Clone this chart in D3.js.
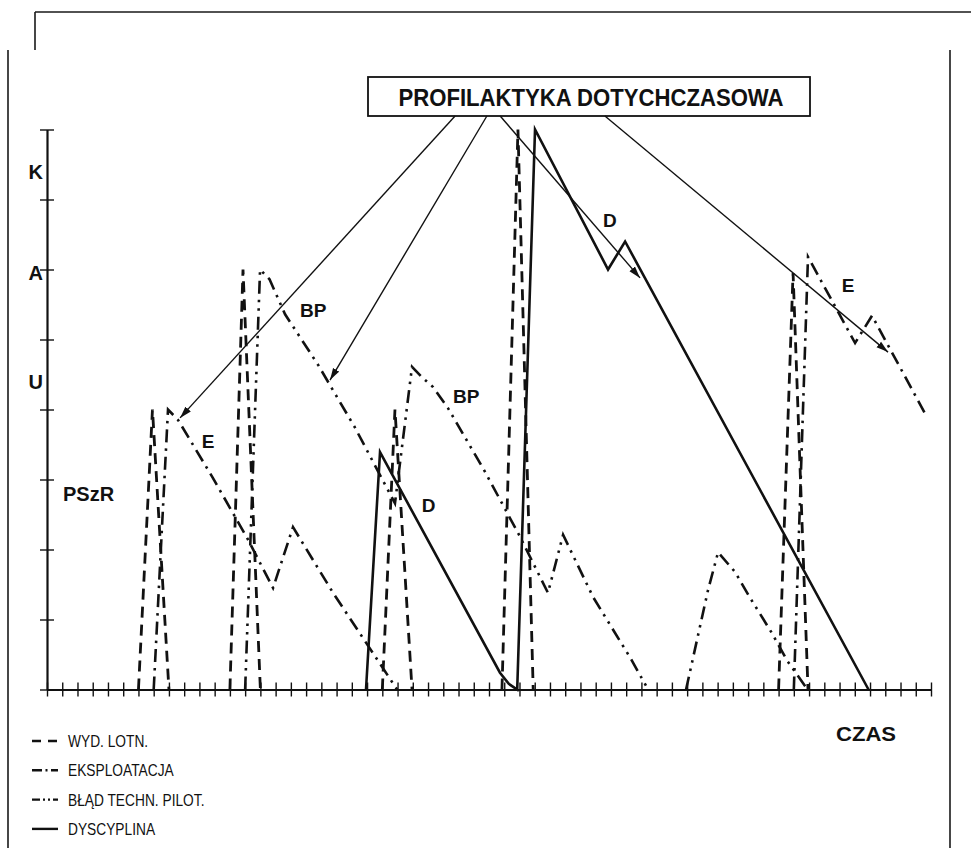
<!DOCTYPE html>
<html>
<head>
<meta charset="utf-8">
<script src="https://cdn.jsdelivr.net/npm/d3@7"></script>
<style>
  html, body { margin: 0; padding: 0; background: #fff; }
  svg { display: block; }
  text { font-family: "Liberation Sans", Arial, sans-serif; fill: #111; }
</style>
</head>
<body>
<script>
// ---- data: time in tick units (0..58), level in axis units (0..8); null breaks a line ----
const wydLotn = [
  [6, 0], [6.92, 4.0], [8, 0], null,
  [12, 0], [12.86, 6.0], [14, 0], null,
  [22, 0], [22.83, 4.0], [23.95, 0], null,
  [29.85, 0], [30.9, 8.0], [31.9, 0], null,
  [48, 0], [48.95, 5.95], [49.93, 0]
];
const eksploatacja = [
  [7, 0], [7.94, 4.0], [8.6, 3.85], [10.89, 3.02], [12.2, 2.52], [13.19, 2.14],
  [14.83, 1.45], [16.14, 2.32], [18.77, 1.38], [22.97, 0], null,
  [49, 0], [49.93, 6.18], [53.02, 4.95], [54.13, 5.34], [57.74, 3.89]
];
const bladPilot = [
  [13, 0], [13.98, 6.0], [14.6, 5.86], [15.62, 5.36], [17.78, 4.64], [20.21, 3.74],
  [22.83, 2.66], [23.95, 4.61], [24.61, 4.46], [25.33, 4.32], [26.31, 4.02],
  [28.74, 3.11], [31.04, 2.18], [32.87, 1.38], [33.86, 2.21], [35.83, 1.32],
  [38.25, 0.46], [39.44, 0], null,
  [41.93, 0], [43.37, 1.42], [44.03, 1.96], [45.14, 1.68], [46.13, 1.31],
  [47.55, 0.81], [48.54, 0.42], [49.9, 0]
];
const dyscyplina = [
  [20.93, 0], [21.85, 3.39], [29.72, 0.24], [30.3, 0.08], [30.85, 0],
  [32.02, 8.0], [36.81, 6.0], [37.93, 6.4], [53.9, 0]
];

const seriesNames = ["WYD. LOTN.", "EKSPLOATACJA", "BŁĄD TECHN. PILOT.", "DYSCYPLINA"];
const levelLabels = ["K", "A", "U", "PSzR"];
const levelValues = [7.4, 5.95, 4.4, 2.8];
const xTicks = d3.range(0, 59);
const yTicks = d3.range(0, 9);

// curve annotations: [text, time, level]
const curveNotes = [
  ["E", 10.15, 3.45], ["BP", 16.6, 5.32], ["BP", 26.64, 4.09],
  ["D", 24.59, 2.54], ["D", 36.48, 6.61], ["E", 52.15, 5.68]
];
// arrows from the prevention box to the curves they act on: [time, level]
const arrowTargets = [[8.73, 3.88], [18.57, 4.42], [38.91, 5.88], [55.18, 4.82]];
const boxTitle = "PROFILAKTYKA DOTYCHCZASOWA";

// ---- drawing ----
const W = 971, H = 848;
const svg = d3.select("body").append("svg").attr("width", W).attr("height", H);
svg.append("rect").attr("width", W).attr("height", H).attr("fill", "#fff");

const x = d3.scaleLinear().domain([0, 58]).range([47, 931]);
const y = d3.scaleLinear().domain([0, 8]).range([689.5, 129.5]);

// page frame
const frame = svg.append("g").attr("stroke", "#1a1a1a").attr("fill", "none").attr("stroke-width", 1.6);
frame.append("path").attr("d", "M35,12H971M35,12V50");
frame.append("path").attr("d", "M8,50V848M950,50V848");

// axes with ticks crossing the line
const gx = svg.append("g").attr("transform", `translate(0,${y(0)})`)
  .call(d3.axisBottom(x).tickValues(xTicks).tickSize(7).tickSizeOuter(0).tickFormat(""));
gx.selectAll(".tick line").attr("y1", -7).attr("stroke", "#111").attr("stroke-width", 1.4);
gx.select(".domain").attr("stroke", "#111").attr("stroke-width", 2.2);

const gy = svg.append("g").attr("transform", `translate(${x(0)},0)`)
  .call(d3.axisLeft(y).tickValues(yTicks).tickSize(7).tickSizeOuter(0).tickFormat(""));
gy.selectAll(".tick line").attr("x1", 7).attr("stroke", "#111").attr("stroke-width", 1.4);
gy.select(".domain").attr("stroke", "#111").attr("stroke-width", 2.2);

// level labels on the vertical axis
svg.selectAll("text.level").data(levelLabels).join("text")
  .attr("class", "level")
  .attr("x", d => d === "PSzR" ? 63 : 43)
  .attr("y", (d, i) => y(levelValues[i]) + 7)
  .attr("text-anchor", d => d === "PSzR" ? "start" : "end")
  .attr("font-weight", "bold").attr("font-size", 20)
  .text(d => d);

// curves
const line = d3.line().defined(d => d !== null).x(d => x(d[0])).y(d => y(d[1]));
const styles = [
  { data: wydLotn, dash: "11,7", width: 2.8 },
  { data: eksploatacja, dash: "13,6,2.5,6", width: 2.6 },
  { data: bladPilot, dash: "13,6,2.5,6,2.5,6", width: 2.6 },
  { data: dyscyplina, dash: null, width: 2.6 }
];
styles.forEach(s => {
  svg.append("path").datum(s.data)
    .attr("d", line)
    .attr("fill", "none").attr("stroke", "#111")
    .attr("stroke-width", s.width)
    .attr("stroke-linejoin", "miter")
    .attr("stroke-dasharray", s.dash);
});

// curve letters
svg.selectAll("text.note").data(curveNotes).join("text")
  .attr("class", "note")
  .attr("x", d => x(d[1])).attr("y", d => y(d[2]))
  .attr("font-weight", "bold").attr("font-size", 19)
  .text(d => d[0]);

// prevention box
const box = { x: 368, y: 77, w: 442, h: 39 };
svg.append("rect").attr("x", box.x).attr("y", box.y).attr("width", box.w).attr("height", box.h)
  .attr("fill", "#fff").attr("stroke", "#111").attr("stroke-width", 1.8);
svg.append("text")
  .attr("x", box.x + box.w / 2 + 2).attr("y", box.y + 29)
  .attr("text-anchor", "middle").attr("font-weight", "bold").attr("font-size", 23)
  .attr("textLength", 385).attr("lengthAdjust", "spacingAndGlyphs")
  .text(boxTitle);

// arrows
svg.append("defs").append("marker")
  .attr("id", "head").attr("viewBox", "0 -4 12 8").attr("refX", 12).attr("refY", 0)
  .attr("markerWidth", 12).attr("markerHeight", 8).attr("markerUnits", "userSpaceOnUse")
  .attr("orient", "auto")
  .append("path").attr("d", "M0,-3.6L12,0L0,3.6Z").attr("fill", "#111");
const arrowStarts = [0.197, 0.269, 0.299, 0.536];
svg.selectAll("line.arrow").data(arrowTargets).join("line")
  .attr("class", "arrow")
  .attr("x1", (d, i) => box.x + box.w * arrowStarts[i]).attr("y1", box.y + box.h)
  .attr("x2", d => x(d[0])).attr("y2", d => y(d[1]))
  .attr("stroke", "#111").attr("stroke-width", 1.4)
  .attr("marker-end", "url(#head)");

// axis title
svg.append("text").attr("x", 836).attr("y", 741)
  .attr("font-weight", "bold").attr("font-size", 21)
  .attr("textLength", 60).attr("lengthAdjust", "spacingAndGlyphs").text("CZAS");

// legend, condensed lettering
const legendDash = ["9,7", "10,3.5,2,3.5", "8,3,2,3,2,3", null];
const lg = svg.append("g");
seriesNames.forEach((name, i) => {
  const yy = 741 + i * 29.3;
  lg.append("line").attr("x1", 32).attr("x2", 58).attr("y1", yy).attr("y2", yy)
    .attr("stroke", "#111").attr("stroke-width", 2.4)
    .attr("stroke-dasharray", legendDash[i]);
  lg.append("text").attr("transform", `translate(68,${yy + 6}) scale(0.86,1)`)
    .attr("font-size", 16).text(name);
});
</script>
</body>
</html>
